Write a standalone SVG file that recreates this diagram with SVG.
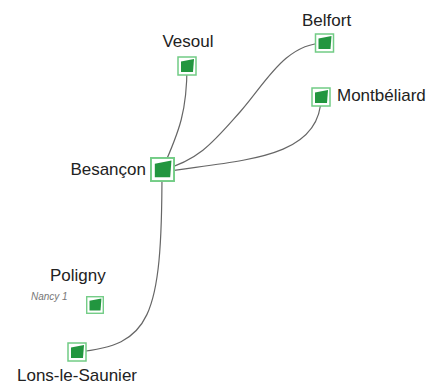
<svg xmlns="http://www.w3.org/2000/svg" width="428" height="386" viewBox="0 0 428 386">
<style>
.lbl{font-family:"Liberation Sans",Arial,sans-serif;font-size:17px;fill:#222}
.sub{font-family:"Liberation Sans",Arial,sans-serif;font-size:10px;font-style:italic;fill:#777}
.edge{fill:none;stroke:#666;stroke-width:1.2}
.box{fill:#fff;stroke:#72cc85;stroke-width:1.5}
.core{fill:#22963f}
</style>
<defs>
<g id="mark">
<rect class="box" x="-9" y="-9" width="18" height="18"/>
<polygon class="core" points="-6,-4.5 7,-7 6,6 -6,6"/>
</g>
</defs>
<rect width="428" height="386" fill="#fff"/>
<g id="connectors">
<path class="edge" d="M187,66 C187,110 180,130 162,170"/>
<path class="edge" d="M162,170 C200,160 215,140 240,112 S285,43 325,43"/>
<path class="edge" d="M162,172 C240,160 321,160 321,97"/>
<path class="edge" d="M162,170 C162,320 150,345 77,352"/>
</g>
<g id="vesoul"><use href="#mark" transform="translate(187,66)"/><text class="lbl" x="188" y="47" text-anchor="middle">Vesoul</text></g>
<g id="belfort"><use href="#mark" transform="translate(324.5,43)"/><text class="lbl" x="302" y="26">Belfort</text></g>
<g id="montbeliard"><use href="#mark" transform="translate(321,97)"/><text class="lbl" x="337" y="101">Montbéliard</text></g>
<g id="besancon"><use href="#mark" transform="translate(162.5,169.5) scale(1.28)"/><text class="lbl" x="146" y="175" text-anchor="end">Besançon</text></g>
<g id="poligny"><use href="#mark" transform="translate(95,305) scale(0.92)"/><text class="lbl" x="50" y="281">Poligny</text><text class="sub" x="31" y="300">Nancy 1</text></g>
<g id="lons"><use href="#mark" transform="translate(77,352)"/><text class="lbl" x="17" y="381">Lons-le-Saunier</text></g>
</svg>
